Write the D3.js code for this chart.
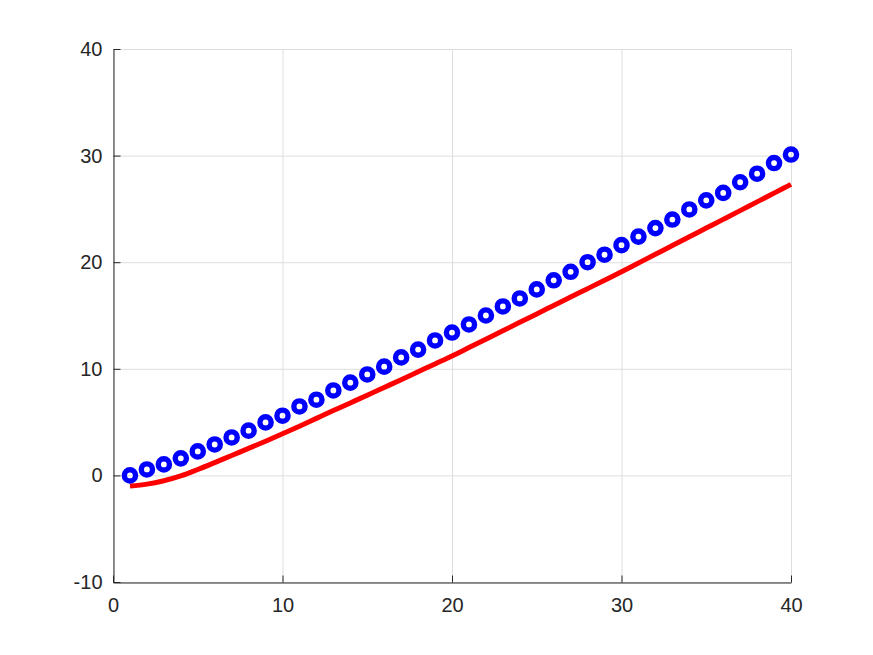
<!DOCTYPE html>
<html>
<head>
<meta charset="utf-8">
<script src="https://cdn.jsdelivr.net/npm/d3@7"></script>
<style>
  html, body { margin: 0; padding: 0; background: #fff; }
  svg { display: block; }
</style>
</head>
<body>
<script>
const xValues = d3.range(1, 41);
const markerValues = [0, 0.56, 1.03, 1.6, 2.25, 2.9, 3.56, 4.2, 4.97, 5.6,
  6.47, 7.1, 7.97, 8.7, 9.47, 10.2, 11.07, 11.8, 12.66, 13.4,
  14.16, 15.0, 15.85, 16.6, 17.45, 18.3, 19.1, 20.0, 20.7, 21.6,
  22.4, 23.2, 24.0, 24.95, 25.8, 26.5, 27.5, 28.3, 29.3, 30.1];
const lineValues = [-1.0, -0.82, -0.5, -0.05, 0.55, 1.2, 1.87, 2.53, 3.21, 3.9,
  4.62, 5.35, 6.08, 6.8, 7.52, 8.25, 8.98, 9.72, 10.46, 11.2,
  11.99, 12.78, 13.57, 14.36, 15.15, 15.94, 16.73, 17.52, 18.31, 19.1,
  19.92, 20.74, 21.56, 22.38, 23.2, 24.02, 24.84, 25.66, 26.48, 27.3];
const xTicks = [0, 10, 20, 30, 40];
const yTicks = [-10, 0, 10, 20, 30, 40];

const W = 873, H = 655;
const mLeft = 113, mRight = 791, mTop = 49, mBottom = 582;

const svg = d3.select("body").append("svg").attr("width", W).attr("height", H);

const x = d3.scaleLinear().domain([0, 40]).range([mLeft, mRight]);
const y = d3.scaleLinear().domain([-10, 40]).range([mBottom, mTop]);

// grid
const grid = svg.append("g");
grid.selectAll(".gx").data(xTicks).enter().append("line")
  .attr("x1", d => x(d) + 0.5).attr("x2", d => x(d) + 0.5)
  .attr("y1", mTop).attr("y2", mBottom)
  .attr("stroke", "#dedede").attr("stroke-width", 1);
grid.selectAll(".gy").data(yTicks).enter().append("line")
  .attr("x1", mLeft).attr("x2", mRight)
  .attr("y1", d => y(d) + 0.5).attr("y2", d => y(d) + 0.5)
  .attr("stroke", "#dedede").attr("stroke-width", 1);

// axes
const axisColor = "#262626";
const fmt = d => String(d);
const xAxis = svg.append("g").attr("transform", `translate(0,${mBottom + 0.5})`)
  .call(d3.axisBottom(x).tickValues(xTicks).tickFormat(fmt).tickSizeInner(-7).tickSizeOuter(0).tickPadding(15));
const yAxis = svg.append("g").attr("transform", `translate(${mLeft + 0.5},0)`)
  .call(d3.axisLeft(y).tickValues(yTicks).tickFormat(fmt).tickSizeInner(-7).tickSizeOuter(0).tickPadding(11));
[xAxis, yAxis].forEach(g => {
  g.attr("font-family", null).attr("font-size", null);
  g.select(".domain").attr("stroke", axisColor).attr("stroke-width", 1);
  g.selectAll(".tick line").attr("stroke", axisColor);
  g.selectAll(".tick text").attr("fill", axisColor)
    .style("font-family", "'Liberation Sans', Arial, sans-serif").style("font-size", "20px");
});

// red line
const line = d3.line().x((d, i) => x(xValues[i])).y(d => y(d)).curve(d3.curveMonotoneX);
svg.append("path").datum(lineValues)
  .attr("d", line)
  .attr("fill", "none").attr("stroke", "#ff0000").attr("stroke-width", 5);

// blue markers
svg.append("g").selectAll("circle").data(markerValues).enter().append("circle")
  .attr("cx", (d, i) => x(xValues[i]))
  .attr("cy", d => y(d))
  .attr("r", 5.6)
  .attr("fill", "none")
  .attr("stroke", "#0000ff")
  .attr("stroke-width", 5.4);
</script>
</body>
</html>
